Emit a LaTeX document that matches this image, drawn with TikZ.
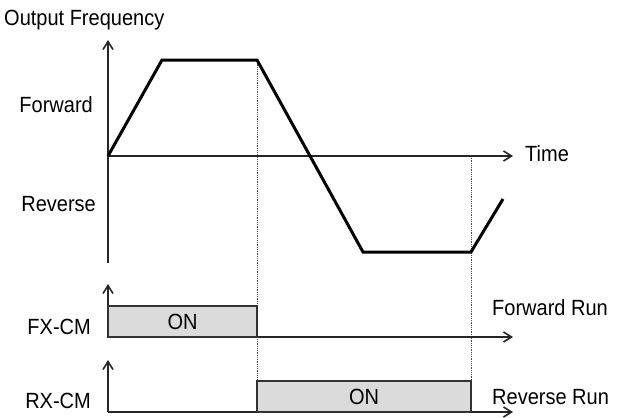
\documentclass[tikz,border=0pt]{standalone}
\usepackage{fontspec}
\setmainfont{Liberation Sans}
\usetikzlibrary{arrows.meta}

\begin{document}
\begin{tikzpicture}[x=1pt, y=-1pt,
  lbl/.style={font=\fontsize{20}{22}\selectfont, inner sep=0pt, yscale=1.1, transform shape},
  axis/.style={-{Straight Barb[length=8pt, width=10pt]}, line width=1.6pt, black!85},
  curve/.style={line width=3pt, line join=miter},
  guide/.style={densely dotted, line width=0.8pt, black!70},
  onbox/.style={rectangle, draw=black!80, line width=1.5pt, fill=black!14, inner sep=0pt},
  ontext/.style={font=\fontsize{20}{22}\selectfont, inner sep=0pt, yscale=1.1, transform shape},
]
\useasboundingbox (0,0) rectangle (622,418);
% frequency axes and profile
\coordinate (o) at (108,156); \coordinate (ytop) at (108,40); \coordinate (ybot) at (108,263);
\coordinate (tend) at (513,156);
\coordinate (p1) at (162,60); \coordinate (p2) at (257,60); \coordinate (p3) at (363,252);
\coordinate (p4) at (471,252); \coordinate (p5) at (503,199);
% run inputs
\coordinate (fxo) at (108,337); \coordinate (fxtop) at (108,284); \coordinate (fxend) at (513,337);
\coordinate (rxo) at (108,412); \coordinate (rxtop) at (108,360); \coordinate (rxend) at (513,412);
\coordinate (ga) at (257,412); \coordinate (gb) at (471,156); \coordinate (gc) at (471,412);
\draw[guide] (p2) -- (ga); \draw[guide] (gb) -- (gc);
\draw[axis] (ybot) -- (ytop); \draw[axis] (o) -- (tend);
\draw[curve] (o) -- (p1) -- (p2) -- (p3) -- (p4) -- (p5);
\draw[axis] (fxo) -- (fxtop); \draw[axis] (fxo) -- (fxend);
\draw[axis] (rxo) -- (rxtop); \draw[axis] (rxo) -- (rxend);
\node[onbox, minimum width=149pt, minimum height=31pt] (fxon) at (182.5,321.5) {};
\node[onbox, minimum width=214pt, minimum height=31pt] (rxon) at (364,396.5) {};
\node[ontext] (fxontext) at (fxon) {ON};
\node[ontext] (rxontext) at (rxon) {ON};
% labels
\node[lbl, anchor=base west] (ylabel) at (4,25)   {Output Frequency};
\node[lbl, anchor=base east] (fwd)    at (93,112) {Forward};
\node[lbl, anchor=base east] (rev)    at (96,211) {Reverse};
\node[lbl, anchor=base west] (tlabel) at (525,161) {Time};
\node[lbl, anchor=base east] (fxcm)   at (91,334) {FX-CM};
\node[lbl, anchor=base east] (rxcm)   at (91,408) {RX-CM};
\node[lbl, anchor=base west] (fwdrun) at (492,315) {Forward Run};
\node[lbl, anchor=base west] (revrun) at (492,404) {Reverse Run};
\end{tikzpicture}
\end{document}
